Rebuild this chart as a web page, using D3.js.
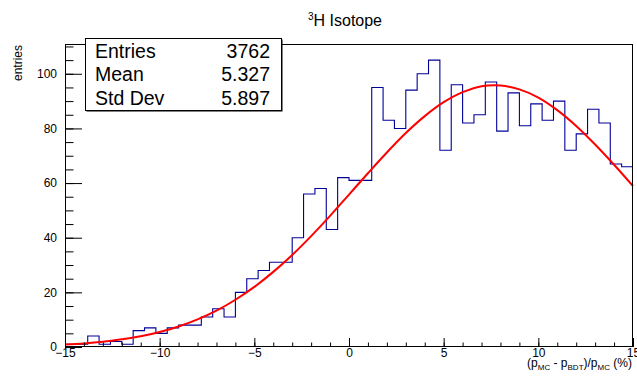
<!DOCTYPE html>
<html>
<head>
<meta charset="utf-8">
<script src="https://cdn.jsdelivr.net/npm/d3@7/dist/d3.min.js"></script>
<style>
  html, body { margin: 0; padding: 0; background: #fff; }
  svg { display: block; }
  text { font-family: "Liberation Sans", Arial, Helvetica, sans-serif; fill: #000; }
</style>
</head>
<body>
<svg id="chart" width="637" height="377"></svg>
<script>
// Histogram definition: 50 bins of 0.6 % over [-15, 15]
const histRange = [-15, 15];
const binWidth = 0.6;
const binCounts = [
  1, 1, 4, 1, 2, 1, 6, 7, 5, 7,
  8, 8, 11, 14, 11, 20, 25, 28, 31, 31,
  40, 56, 58, 43, 62, 61, 61, 95, 83, 80,
  94, 100, 105, 72, 96, 82, 85, 97, 79, 93,
  81, 89, 83, 90, 72, 78, 87, 82, 67, 66
];

// Gaussian fit curve, sampled every 1 %
const fitX = [-15, -14, -13, -12, -11, -10, -9, -8, -7, -6, -5, -4, -3, -2, -1, 0,
              1, 2, 3, 4, 5, 6, 7, 8, 9, 10, 11, 12, 13, 14, 15];
const fitY = [0.9, 1.3, 1.9, 2.8, 3.9, 5.5, 7.5, 10.1, 13.3, 17.3, 22.0, 27.5, 33.7, 40.6, 48.0, 55.8,
              63.6, 71.2, 78.3, 84.5, 89.6, 93.3, 95.4, 95.7, 94.3, 91.3, 86.7, 80.9, 74.1, 66.7, 58.9];

const xMajorTicks = [-15, -10, -5, 0, 5, 10, 15];
const xMinorTicks = d3.range(-15, 15.01, 1);
const yMajorTicks = [0, 20, 40, 60, 80, 100];
const yMinorTicks = [0, 5, 10, 15, 20, 25, 30, 35, 40, 45, 50, 55, 60, 65, 70, 75, 80, 85, 90, 95, 100, 105, 110];
const yMax = 110.9;

const statsLabels = ["Entries", "Mean", "Std Dev"];
const statsValues = ["3762", "5.327", "5.897"];

const svg = d3.select("#chart");
svg.append("rect").attr("width", 637).attr("height", 377).attr("fill", "#fff");

const frame = { left: 65, right: 633, top: 44, bottom: 347 };

const x = d3.scaleLinear().domain(histRange).range([frame.left, frame.right]);
const y = d3.scaleLinear().domain([0, yMax]).range([frame.bottom, frame.top]);

// Fit curve drawn underneath? ROOT draws the function after the histogram
const plot = svg.append("g");

// Histogram outline as steps
const stepPts = [];
binCounts.forEach((c, i) => {
  const lo = histRange[0] + i * binWidth;
  stepPts.push([lo, c], [lo + binWidth, c]);
});
plot.append("path")
  .attr("d", d3.line().x(d => x(d[0])).y(d => y(d[1]))(stepPts))
  .attr("fill", "none")
  .attr("stroke", "#000099")
  .attr("stroke-width", 1.1);

// Fit function
plot.append("path")
  .attr("d", d3.line().curve(d3.curveCatmullRom).x((d, i) => x(fitX[i])).y(d => y(d))(fitY))
  .attr("fill", "none")
  .attr("stroke", "#ff0000")
  .attr("stroke-width", 2);

// Axes (ticks pointing into the frame)
const xAxisMinor = d3.axisBottom(x).tickValues(xMinorTicks).tickSize(-4.5).tickFormat("");
const xAxisMajor = d3.axisBottom(x).tickValues(xMajorTicks).tickSize(-9).tickPadding(1.5)
  .tickFormat(d3.format("d"));
const yAxisMinor = d3.axisLeft(y).tickValues(yMinorTicks).tickSize(-8.5).tickFormat("");
const yAxisMajor = d3.axisLeft(y).tickValues(yMajorTicks).tickSize(-17).tickPadding(8)
  .tickFormat(d3.format("d"));

function styleAxis(g) {
  g.select(".domain").remove();
  g.selectAll(".tick line").attr("stroke", "#000").attr("stroke-width", 1);
  g.selectAll(".tick text").attr("font-size", 12).attr("fill", "#000")
    .style("font-family", '"Liberation Sans", Arial, sans-serif');
}

svg.append("g").attr("transform", `translate(0,${frame.bottom})`).call(xAxisMinor).call(styleAxis);
svg.append("g").attr("transform", `translate(0,${frame.bottom})`).call(xAxisMajor).call(styleAxis);
svg.append("g").attr("transform", `translate(${frame.left},0)`).call(yAxisMinor).call(styleAxis);
svg.append("g").attr("transform", `translate(${frame.left},0)`).call(yAxisMajor).call(styleAxis);

// Frame
svg.append("rect")
  .attr("x", frame.left + 0.5).attr("y", frame.top + 0.5)
  .attr("width", frame.right - frame.left - 1).attr("height", frame.bottom - frame.top - 1)
  .attr("fill", "none").attr("stroke", "#000").attr("stroke-width", 1);

// Title
const title = svg.append("text").attr("x", 345).attr("y", 26)
  .attr("text-anchor", "middle").attr("font-size", 16);
title.append("tspan").attr("font-size", 10).attr("dy", -6).text("3");
title.append("tspan").attr("dy", 6).text("H Isotope");

// Y axis title
svg.append("text")
  .attr("transform", `translate(22,${frame.top + 1}) rotate(-90)`)
  .attr("text-anchor", "end").attr("font-size", 12).text("entries");

// X axis title with subscripts
const xt = svg.append("text").attr("x", 632).attr("y", 367)
  .attr("text-anchor", "end").attr("font-size", 12);
xt.append("tspan").text("(p");
xt.append("tspan").attr("font-size", 8).attr("dy", 3).text("MC");
xt.append("tspan").attr("dy", -3).text(" - p");
xt.append("tspan").attr("font-size", 8).attr("dy", 3).text("BDT");
xt.append("tspan").attr("dy", -3).text(")/p");
xt.append("tspan").attr("font-size", 8).attr("dy", 3).text("MC");
xt.append("tspan").attr("dy", -3).text(" (%)");

// Statistics box
const box = { x: 85, y: 38, w: 196, h: 72 };
svg.append("rect").attr("x", box.x + 1.5).attr("y", box.y + 1.5)
  .attr("width", box.w).attr("height", box.h).attr("fill", "#000");
svg.append("rect").attr("x", box.x + 0.5).attr("y", box.y + 0.5)
  .attr("width", box.w).attr("height", box.h).attr("fill", "#fff")
  .attr("stroke", "#000").attr("stroke-width", 1);
const rowBase = [58, 81.3, 104.5];
statsLabels.forEach((lab, i) => {
  svg.append("text").attr("x", 95).attr("y", rowBase[i]).attr("font-size", 19.5).text(lab);
  svg.append("text").attr("x", 270).attr("y", rowBase[i]).attr("font-size", 19.5)
    .attr("text-anchor", "end").text(statsValues[i]);
});
</script>
</body>
</html>
